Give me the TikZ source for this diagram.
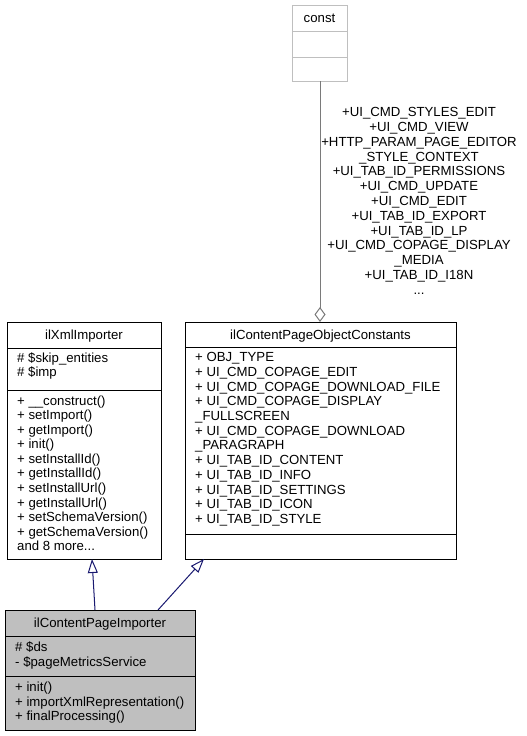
\documentclass[tikz,border=0pt]{standalone}
\usepackage{fontspec}
\setmainfont{Liberation Sans}
\usetikzlibrary{arrows.meta}
\definecolor{greyS}{HTML}{BFBFBF}
\definecolor{greyD}{HTML}{7A7A7A}
\definecolor{mblue}{HTML}{191970}
\newcommand\umllist[5]{% prefix, x, first centre y, spacing, list
  \foreach \t [count=\i] in {#5} {%
    \node[txt, anchor=base west] (#1\i) at (#2, {#3+(\i-1)*#4+4.7}) {\t};}}
\begin{document}
\begin{tikzpicture}[x=1pt,y=-1pt,
  txt/.style={inner sep=0pt, font=\fontsize{13.2}{14.7}\selectfont},
  classbox/.style={draw=black, line width=1pt, inner sep=0pt, anchor=north west},
  sep/.style={draw=black, line width=1pt},
  inh/.style={draw=mblue, line width=1pt, -{Triangle[fill=white, length=14pt, width=10pt]}},
  agg/.style={draw=greyD, line width=1pt, -{Diamond[fill=white, length=15pt, width=11pt]}},
]
\useasboundingbox (0,0) rectangle (527,736);

% const
\node[classbox, draw=greyS, minimum width=55pt, minimum height=76pt] (const) at (292,5) {};
\draw[greyS, line width=1pt] (292,31) -- (347,31) (292,57) -- (347,57);
\node[txt, anchor=base] (constt) at (319.5,22.7) {const};

% ilXmlImporter
\node[classbox, minimum width=154pt, minimum height=237pt] (xml) at (7,322) {};
\draw[sep] (7,348) -- (161,348) (7,390) -- (161,390);
\node[txt, anchor=base] (xmlt) at (84,339.7) {ilXmlImporter};
\umllist{xa}{17}{358}{14}{\# \$skip\_entities,\# \$imp}
\umllist{xm}{17}{400.5}{14.55}{+ \_\_construct(),+ setImport(),+ getImport(),+ init(),+ setInstallId(),+ getInstallId(),+ setInstallUrl(),+ getInstallUrl(),+ setSchemaVersion(),+ getSchemaVersion()}
\node[txt, anchor=base west] (xmore) at (17,550.7) {and 8 more...};

% ilContentPageObjectConstants
\node[classbox, minimum width=271pt, minimum height=237pt] (cons) at (185,322) {};
\draw[sep] (185,347) -- (456,347) (185,534) -- (456,534);
\node[txt, anchor=base] (consT) at (320.5,339.2) {ilContentPageObjectConstants};
\umllist{ca}{195}{357}{14.7}{+ OBJ\_TYPE,+ UI\_CMD\_COPAGE\_EDIT,+ UI\_CMD\_COPAGE\_DOWNLOAD\_FILE,+ UI\_CMD\_COPAGE\_DISPLAY,\_FULLSCREEN,+ UI\_CMD\_COPAGE\_DOWNLOAD,\_PARAGRAPH,+ UI\_TAB\_ID\_CONTENT,+ UI\_TAB\_ID\_INFO,+ UI\_TAB\_ID\_SETTINGS,+ UI\_TAB\_ID\_ICON,+ UI\_TAB\_ID\_STYLE}

% ilContentPageImporter
\node[classbox, fill=greyS, minimum width=190pt, minimum height=120pt] (imp) at (5,610) {};
\draw[sep] (5,636) -- (195,636) (5,676) -- (195,676);
\node[txt, anchor=base] (impt) at (100,627.7) {ilContentPageImporter};
\umllist{ia}{15}{647}{14.8}{\# \$ds,- \$pageMetricsService}
\umllist{im}{15}{687}{14.5}{+ init(),+ importXmlRepresentation(),+ finalProcessing()}

% edge label
\foreach \t [count=\i] in {+UI\_CMD\_STYLES\_EDIT,+UI\_CMD\_VIEW,+HTTP\_PARAM\_PAGE\_EDITOR,\_STYLE\_CONTEXT,+UI\_TAB\_ID\_PERMISSIONS,+UI\_CMD\_UPDATE,+UI\_CMD\_EDIT,+UI\_TAB\_ID\_EXPORT,+UI\_TAB\_ID\_LP,+UI\_CMD\_COPAGE\_DISPLAY,\_MEDIA,+UI\_TAB\_ID\_I18N}
  {\node[txt, anchor=base] (lbl\i) at (419, {112+(\i-1)*14.8+4.7}) {\t};}
\node[txt, anchor=base] (lbldots) at (419, {112+12*14.8+4.7}) {...};

% connectors
\coordinate (aggS) at (320,81);
\coordinate (aggT) at (320,322);
\draw[agg] (aggS) -- (aggT);
\coordinate (i1S) at (95,610);
\coordinate (i1T) at (92,559);
\draw[inh] (i1S) -- (i1T);
\coordinate (i2S) at (158,610);
\coordinate (i2T) at (204,559);
\draw[inh] (i2S) -- (i2T);
\end{tikzpicture}
\end{document}
